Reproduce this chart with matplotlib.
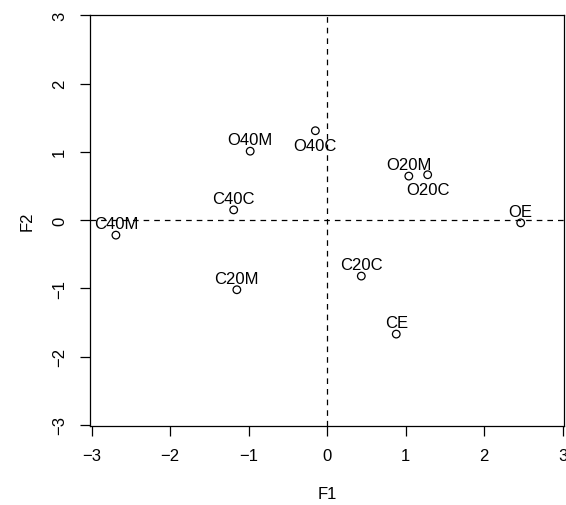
import numpy as np
import matplotlib.pyplot as plt

plt.rcParams['font.family'] = ['Liberation Sans', 'DejaVu Sans']

# factor scores
labels = ['O40M', 'O40C', 'C40C', 'C40M', 'C20M', 'C20C', 'O20M', 'O20C', 'OE', 'CE']
f1 = [-0.98, -0.15, -1.19, -2.69, -1.15, 0.435, 1.04, 1.28, 2.465, 0.88]
f2 = [1.01, 1.31, 0.15, -0.22, -1.02, -0.82, 0.645, 0.665, -0.04, -1.67]
# where the label sits: 3 = above, 1 = below (R style pos)
label_pos = [3, 1, 3, 3, 3, 3, 3, 1, 3, 3]

fig = plt.figure(figsize=(5.66, 5.06), dpi=100)
ax = fig.add_axes([0.159, 0.157, 0.838, 0.812])

ax.axhline(0, color='black', lw=0.9, ls=(0, (4.5, 4)), zorder=1)
ax.axvline(0, color='black', lw=0.9, ls=(0, (4.5, 4)), zorder=1)

ax.scatter(f1, f2, s=30, facecolors='none', edgecolors='black', linewidths=0.9, zorder=3)

for lab, x, y, p in zip(labels, f1, f2, label_pos):
    dy = 9.3 if p == 3 else -9.8
    ax.annotate(lab, (x, y), xytext=(0, dy), textcoords='offset points',
                ha='center', va='center_baseline', fontsize=12, zorder=4)

ax.set_xlim(-3.02, 3.02)
ax.set_ylim(-3.01, 3.01)
ticks = [-3, -2, -1, 0, 1, 2, 3]
ax.set_xticks(ticks)
ax.set_yticks(ticks)
ax.set_xticklabels(['\u22123', '\u22122', '\u22121', '0', '1', '2', '3'])
ax.set_yticklabels(['\u22123', '\u22122', '\u22121', '0', '1', '2', '3'], rotation=90, va='center')
ax.tick_params(labelsize=12, length=7.5, width=0.9, pad=9)

for s in ax.spines.values():
    s.set_linewidth(0.9)

ax.set_xlabel('F1', fontsize=12)
ax.set_ylabel('F2', fontsize=12)
ax.xaxis.set_label_coords(0.5, -0.148)
ax.yaxis.set_label_coords(-0.116, 0.5)

fig.savefig('out.png', dpi=100)
